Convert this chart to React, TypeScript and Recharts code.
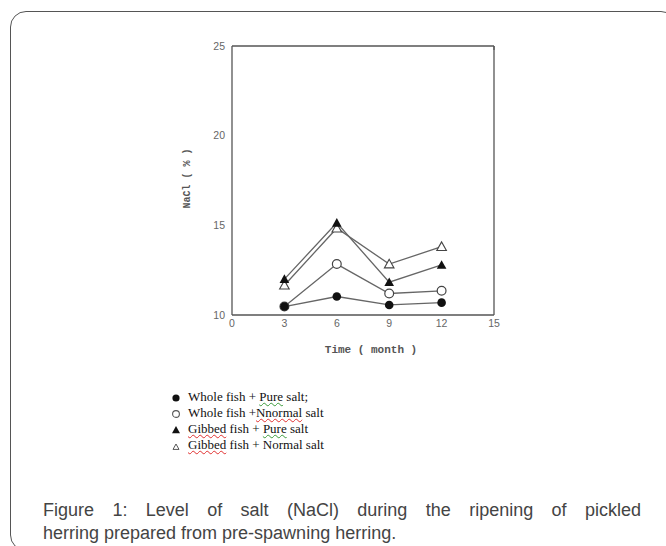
import React from "react";
import { LineChart, Line, XAxis, YAxis } from "recharts";

// ripening time (months)
const months = [3, 6, 9, 12];

// NaCl (%)
const wholePure = [10.47, 11.03, 10.56, 10.69];
const wholeNormal = [10.47, 12.84, 11.2, 11.35];
const gibbedPure = [12.0, 15.14, 11.83, 12.79];
const gibbedNormal = [11.66, 14.84, 12.84, 13.81];

const xTicks = [0, 3, 6, 9, 12, 15];
const yTicks = [10, 15, 20, 25];

const data = months.map((m, i) => ({
    month: m,
    wholePure: wholePure[i],
    wholeNormal: wholeNormal[i],
    gibbedPure: gibbedPure[i],
    gibbedNormal: gibbedNormal[i],
}));

const axisColor = "#555";
const lineColor = "#666";

const FilledCircle = (p: any) => (
    <circle key={`fc-${p.index}`} cx={p.cx} cy={p.cy} r={4.3} fill="#111" />
);
const OpenCircle = (p: any) => (
    <circle key={`oc-${p.index}`} cx={p.cx} cy={p.cy} r={4.4} fill="#fff" stroke="#444" strokeWidth={1.2} />
);
const triPoints = (cx: number, cy: number, s: number) =>
    `${cx},${cy - s} ${cx - s},${cy + s * 0.8} ${cx + s},${cy + s * 0.8}`;
const FilledTri = (p: any) => (
    <polygon key={`ft-${p.index}`} points={triPoints(p.cx, p.cy, 4.8)} fill="#111" />
);
const OpenTri = (p: any) => (
    <polygon key={`ot-${p.index}`} points={triPoints(p.cx, p.cy, 4.8)} fill="#fff" stroke="#444" strokeWidth={1.1} />
);
const NoTick = () => <g />;

const red = { textDecoration: "underline wavy #e03030", textDecorationThickness: "1px", textUnderlineOffset: "1px" } as const;
const green = { textDecoration: "underline wavy #3a9a3a", textDecorationThickness: "1px", textUnderlineOffset: "1px" } as const;

const legendRows = [
    { sym: <circle cx={6} cy={8} r={3.6} fill="#111" />, text: <>Whole fish + <span style={green}>Pure</span> salt;</> },
    { sym: <circle cx={6} cy={8} r={3.4} fill="none" stroke="#555" strokeWidth={1.1} />, text: <>Whole fish +<span style={red}>Nnormal</span> salt</> },
    { sym: <polygon points={triPoints(6, 8, 4)} fill="#111" />, text: <><span style={red}>Gibbed</span> fish + <span style={green}>Pure</span> salt</> },
    { sym: <polygon points={triPoints(6, 9, 3)} fill="none" stroke="#555" strokeWidth={1} />, text: <><span style={red}>Gibbed</span> fish + Normal salt</> },
];

export default function App() {
    return (
        <div style={{ position: "fixed", left: 0, top: 0, width: 666, height: 546, overflow: "hidden", background: "#fff" }}>
            <div style={{
                position: "absolute", left: 10, top: 11, width: 667, height: 540,
                border: "1.5px solid #555", borderRadius: 16, boxSizing: "border-box",
            }} />
            <div style={{ position: "absolute", left: 0, top: 0 }}>
                <LineChart width={666} height={360} data={data} margin={{ top: 46, right: 172, left: 192, bottom: 15 }}>
                    <XAxis
                        xAxisId="b"
                        dataKey="month"
                        type="number"
                        domain={[0, 15]}
                        ticks={xTicks}
                        height={30}
                        tickLine={false}
                        tickSize={0}
                        tickMargin={5}
                        axisLine={{ stroke: axisColor, strokeWidth: 1.3 }}
                        tick={{ fill: "#666", fontSize: 10.5, fontFamily: "Liberation Sans" }}
                        label={{
                            content: (props: any) => {
                                const vb = props.viewBox;
                                return (
                                    <text x={vb.x + vb.width / 2 + 8} y={vb.y + 35} textAnchor="middle" dominantBaseline="central"
                                        fontFamily="Liberation Mono" fontWeight="bold" fontSize={11} fill="#555">
                                        Time ( month )
                                    </text>
                                );
                            },
                        }}
                    />
                    <XAxis
                        xAxisId="t"
                        orientation="top"
                        type="number"
                        domain={[0, 15]}
                        ticks={[3, 6, 9, 12]}
                        height={1}
                        mirror
                        tick={NoTick}
                        tickSize={4}
                        tickLine={{ stroke: axisColor, strokeWidth: 1.2 }}
                        axisLine={{ stroke: axisColor, strokeWidth: 1.3 }}
                    />
                    <YAxis
                        yAxisId="l"
                        type="number"
                        domain={[10, 25]}
                        ticks={yTicks}
                        width={40}
                        tickLine={false}
                        tickSize={0}
                        tickMargin={7}
                        axisLine={{ stroke: axisColor, strokeWidth: 1.3 }}
                        tick={{ fill: "#666", fontSize: 10.5, fontFamily: "Liberation Sans" }}
                        label={{
                            content: (props: any) => {
                                const vb = props.viewBox;
                                const cx = vb.x - 5;
                                const cy = vb.y + vb.height / 2 - 2;
                                return (
                                    <text x={cx} y={cy} textAnchor="middle" dominantBaseline="central"
                                        transform={`rotate(-90 ${cx} ${cy})`}
                                        fontFamily="Liberation Mono" fontWeight="bold" fontSize={10} fill="#555">
                                        NaCl ( % )
                                    </text>
                                );
                            },
                        }}
                    />
                    <YAxis
                        yAxisId="r"
                        orientation="right"
                        type="number"
                        domain={[10, 25]}
                        ticks={[15, 20]}
                        width={1}
                        mirror
                        tick={NoTick}
                        tickSize={4}
                        tickLine={{ stroke: axisColor, strokeWidth: 1.2 }}
                        axisLine={{ stroke: axisColor, strokeWidth: 1.3 }}
                    />
                    <Line xAxisId="b" yAxisId="l" dataKey="gibbedNormal" stroke={lineColor} strokeWidth={1.3} dot={OpenTri} isAnimationActive={false} />
                    <Line xAxisId="b" yAxisId="l" dataKey="gibbedPure" stroke={lineColor} strokeWidth={1.3} dot={FilledTri} isAnimationActive={false} />
                    <Line xAxisId="b" yAxisId="l" dataKey="wholeNormal" stroke={lineColor} strokeWidth={1.3} dot={OpenCircle} isAnimationActive={false} />
                    <Line xAxisId="b" yAxisId="l" dataKey="wholePure" stroke={lineColor} strokeWidth={1.3} dot={FilledCircle} isAnimationActive={false} />
                </LineChart>
            </div>
            <div style={{ position: "absolute", left: 170, top: 389, fontFamily: "Liberation Serif", fontSize: 13, color: "#111" }}>
                {legendRows.map((r, i) => (
                    <div key={i} style={{ display: "flex", alignItems: "center", height: 16, whiteSpace: "nowrap" }}>
                        <svg width={12} height={14} style={{ marginRight: 6, flex: "none" }}>{r.sym}</svg>
                        <span>{r.text}</span>
                    </div>
                ))}
            </div>
            <div style={{
                position: "absolute", left: 43, top: 499, width: 598,
                fontFamily: "Liberation Sans", fontSize: 18, lineHeight: "23px", color: "#444",
            }}>
                <div style={{ textAlign: "justify", textAlignLast: "justify" }}>
                    Figure 1: Level of salt (NaCl) during the ripening of pickled
                </div>
                <div>herring prepared from pre-spawning herring.</div>
            </div>
        </div>
    );
}
